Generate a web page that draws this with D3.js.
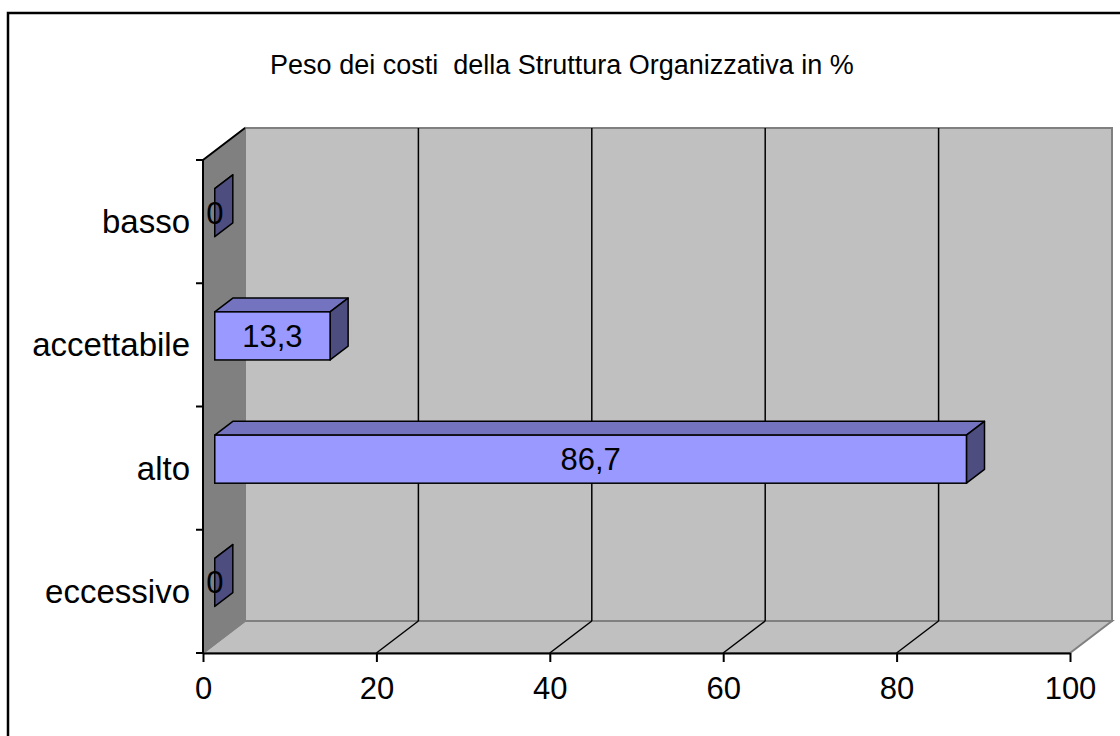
<!DOCTYPE html>
<html>
<head>
<meta charset="utf-8">
<script src="https://cdn.jsdelivr.net/npm/d3@7"></script>
<style>
  body { margin: 0; background: #fff; }
  text { font-family: Arial, "Liberation Sans", sans-serif; fill: #000; }
</style>
</head>
<body>
<svg id="chart" width="1120" height="736"></svg>
<script>
const title = "Peso dei costi  della Struttura Organizzativa in %";
const categories = ["basso", "accettabile", "alto", "eccessivo"];
const values = [0, 13.3, 86.7, 0];
const xTicks = [0, 20, 40, 60, 80, 100];

// italian number format, decimal comma
const it = d3.formatLocale({ decimal: ",", thousands: ".", grouping: [3], currency: ["€", ""] });
const fmt = v => (v === 0 ? "0" : it.format(".1f")(v));

// front plane of the 3d box and its depth offset
const plot = { left: 203, right: 1070, top: 160, bottom: 653 };
const depth = { dx: 42, dy: -32 };
const barDepth = { d0: 0.28, d1: 0.71 };

const svg = d3.select("#chart");

const x = d3.scaleLinear().domain([0, 100]).range([plot.left, plot.right]);
const y = d3.scaleBand().domain(categories).range([plot.top, plot.bottom]);

// outer frame (right and bottom edges fall outside the picture)
svg.append("rect")
  .attr("x", 8).attr("y", 13)
  .attr("width", 1140).attr("height", 760)
  .attr("fill", "#fff").attr("stroke", "#000").attr("stroke-width", 2.5);

svg.append("text")
  .attr("x", 562).attr("y", 74)
  .attr("text-anchor", "middle")
  .style("font-size", "27px")
  .style("white-space", "pre")
  .text(title);

const pts = a => a.map(p => p.join(",")).join(" ");

// back wall
svg.append("rect")
  .attr("x", x(0) + depth.dx).attr("y", plot.top + depth.dy)
  .attr("width", x(100) - x(0)).attr("height", plot.bottom - plot.top)
  .attr("fill", "#c0c0c0").attr("stroke", "#808080").attr("stroke-width", 2);

// floor
svg.append("polygon")
  .attr("points", pts([
    [x(0), plot.bottom], [x(0) + depth.dx, plot.bottom + depth.dy],
    [x(100) + depth.dx, plot.bottom + depth.dy], [x(100), plot.bottom]
  ]))
  .attr("fill", "#c0c0c0").attr("stroke", "#808080").attr("stroke-width", 2);

// left wall
svg.append("polygon")
  .attr("points", pts([
    [x(0), plot.top], [x(0) + depth.dx, plot.top + depth.dy],
    [x(0) + depth.dx, plot.bottom + depth.dy], [x(0), plot.bottom]
  ]))
  .attr("fill", "#808080").attr("stroke", "#808080").attr("stroke-width", 1.5);

svg.append("line")
  .attr("x1", x(0)).attr("y1", plot.top)
  .attr("x2", x(0) + depth.dx).attr("y2", plot.top + depth.dy)
  .attr("stroke", "#000").attr("stroke-width", 2);

// gridlines on the wall and the floor
const inner = xTicks.filter(t => t > 0 && t < 100);
svg.selectAll(".gridWall").data(inner).join("line")
  .attr("x1", d => x(d) + depth.dx).attr("x2", d => x(d) + depth.dx)
  .attr("y1", plot.top + depth.dy).attr("y2", plot.bottom + depth.dy)
  .attr("stroke", "#000").attr("stroke-width", 1.5);
svg.selectAll(".gridFloor").data(inner).join("line")
  .attr("x1", d => x(d)).attr("y1", plot.bottom)
  .attr("x2", d => x(d) + depth.dx).attr("y2", plot.bottom + depth.dy)
  .attr("stroke", "#000").attr("stroke-width", 1.5);

// bottom axis
const xAxis = svg.append("g")
  .attr("transform", `translate(0,${plot.bottom})`)
  .call(d3.axisBottom(x).tickValues(xTicks).tickSize(9).tickSizeOuter(0).tickPadding(15));
xAxis.select(".domain").attr("stroke-width", 2);
xAxis.selectAll(".tick line").attr("stroke-width", 2);
xAxis.selectAll("text").style("font-size", "31px").attr("font-family", null);

// left axis: line, boundary ticks, labels centred in the bands
svg.append("line")
  .attr("x1", plot.left).attr("x2", plot.left)
  .attr("y1", plot.top).attr("y2", plot.bottom)
  .attr("stroke", "#000").attr("stroke-width", 2);
const bounds = categories.map(c => y(c)).concat([plot.bottom]);
svg.selectAll(".ytick").data(bounds).join("line")
  .attr("x1", plot.left - 7).attr("x2", plot.left)
  .attr("y1", d => d).attr("y2", d => d)
  .attr("stroke", "#000").attr("stroke-width", 2);
svg.selectAll(".ylabel").data(categories).join("text")
  .attr("x", 190)
  .attr("y", d => y(d) + y.bandwidth() / 2)
  .attr("dy", "0.35em")
  .attr("text-anchor", "end")
  .style("font-size", "33px")
  .text(d => d);

// 3d bars
const bh = y.bandwidth() * 0.39;
const bdx = (barDepth.d1 - barDepth.d0) * depth.dx;
const bdy = (barDepth.d1 - barDepth.d0) * depth.dy;
const bars = categories.map((c, i) => {
  const ox = barDepth.d0 * depth.dx, oy = barDepth.d0 * depth.dy;
  const yc = y(c) + y.bandwidth() / 2 + oy;
  return { c, v: values[i], x0: x(0) + ox, x1: x(values[i]) + ox, y0: yc - bh / 2, y1: yc + bh / 2 };
});

const g = svg.selectAll(".bar").data(bars).join("g").attr("class", "bar");
g.append("polygon")
  .attr("points", d => pts([[d.x0, d.y0], [d.x0 + bdx, d.y0 + bdy], [d.x1 + bdx, d.y0 + bdy], [d.x1, d.y0]]))
  .attr("fill", "#7373bf").attr("stroke", "#000").attr("stroke-width", 1.5).attr("stroke-linejoin", "round");
g.append("polygon")
  .attr("points", d => pts([[d.x1, d.y0], [d.x1 + bdx, d.y0 + bdy], [d.x1 + bdx, d.y1 + bdy], [d.x1, d.y1]]))
  .attr("fill", "#4d4d80").attr("stroke", "#000").attr("stroke-width", 1.5).attr("stroke-linejoin", "round");
g.filter(d => d.v > 0).append("rect")
  .attr("x", d => d.x0).attr("y", d => d.y0)
  .attr("width", d => d.x1 - d.x0).attr("height", d => d.y1 - d.y0)
  .attr("fill", "#9999ff").attr("stroke", "#000").attr("stroke-width", 1.5);
g.append("text")
  .attr("x", d => (d.x0 + d.x1) / 2)
  .attr("y", d => (d.y0 + d.y1) / 2)
  .attr("dy", "0.35em")
  .attr("text-anchor", "middle")
  .style("font-size", "31px")
  .text(d => fmt(d.v));
</script>
</body>
</html>
